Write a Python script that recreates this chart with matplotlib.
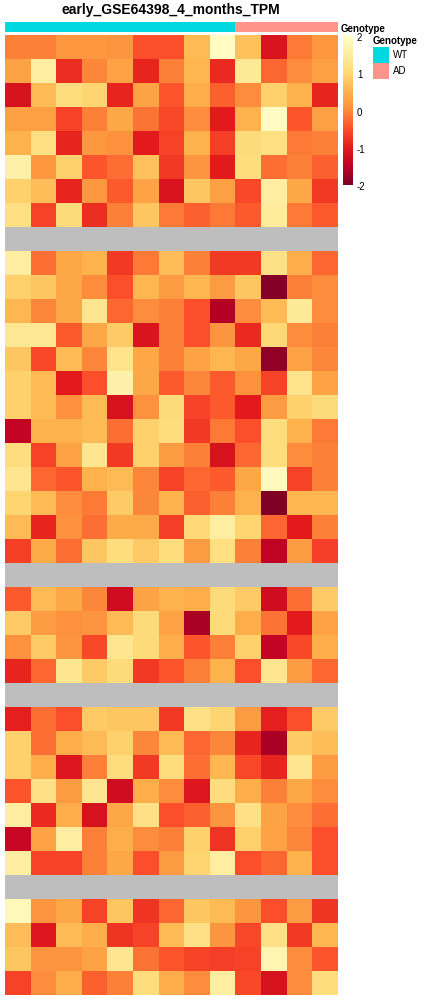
import numpy as np
import matplotlib
matplotlib.use("Agg")
import matplotlib.pyplot as plt
from matplotlib.colors import ListedColormap

plt.rcParams['font.family'] = ['Liberation Sans', 'DejaVu Sans']

title = "early_GSE64398_4_months_TPM"
genotype = ["WT"] * 9 + ["AD"] * 4
geno_colors = {"WT": "#00D8E0", "AD": "#FF948C"}
cbar_ticks = [2, 1, 0, -1, -2]

# z-scored TPM values, one list per row, blocks separated by NA rows
block1 = [
    [-0.1, -0.1, 0.15, 0.15, 0.1, -0.5, -0.5, 0.6, 1.9, 0.7, -1.1, -0.15, 0.15],
    [0.3, 1.5, -0.8, -0.05, 0.3, -0.9, -0.1, 0.55, -0.85, 1.4, -0.3, 0.0, 0.25],
    [-1.15, 0.6, 1.1, 0.95, -0.9, 0.3, -0.45, 0.45, -0.35, 0.0, 0.9, 0.5, -0.9],
    [0.25, 0.25, -0.6, -0.1, 0.35, -0.2, -0.55, 0.0, -1.0, 0.5, 1.9, -0.45, 0.25],
    [0.5, 1.15, -0.9, 0.15, 0.05, -1.0, -0.6, 0.5, -0.65, 1.05, 1.15, -0.15, -0.1],
    [1.6, 0.15, 0.9, -0.45, -0.25, 0.7, -0.7, 0.1, -1.0, 1.1, -0.25, -0.1, -0.35],
    [0.9, 0.65, -0.9, 0.15, -0.4, 0.3, -1.1, 0.75, 0.25, -0.55, 1.5, 0.35, -0.7],
    [1.15, -0.6, 1.05, -0.8, -0.1, 0.75, -0.15, -0.35, -0.15, -0.4, 1.45, -0.15, -0.4],
]
block2 = [
    [1.5, -0.25, 0.35, 0.5, -0.7, -0.15, 0.65, -0.1, -0.7, -0.7, 1.2, 0.45, -0.3],
    [0.9, 0.75, 0.35, 0.0, -0.5, 0.55, 0.2, 0.55, 0.2, 0.75, -1.95, -0.1, 0.0],
    [0.55, -0.05, 0.35, 1.3, -0.3, 0.0, -0.1, -0.5, -1.55, 0.0, 0.6, 1.4, 0.0],
    [1.35, 1.35, -0.4, 0.35, 0.8, -1.1, -0.1, -0.5, 0.1, -0.85, 1.0, 0.0, -0.1],
    [0.75, -0.55, 0.6, -0.05, 1.25, 0.35, -0.1, 0.3, 0.55, 0.35, -1.85, 0.3, -0.05],
    [0.9, 0.6, -1.0, -0.5, 1.6, 0.35, -0.4, -0.05, -0.4, 0.05, -0.6, 1.25, 0.3],
    [0.9, 0.6, 0.05, 0.6, -1.15, 0.05, 1.05, -0.6, -0.4, -1.0, 0.2, 0.9, 1.05],
    [-1.4, 0.5, 0.5, 0.6, -0.25, 0.9, 1.1, -0.7, -0.15, -0.5, 1.1, 0.5, -0.15],
    [1.1, -0.6, 0.3, 1.3, -0.7, 0.9, 0.2, -0.1, -1.15, -0.3, 1.1, 0.0, -0.1],
    [1.3, -0.3, -0.45, 0.5, 0.6, -0.05, -0.6, -0.3, -0.4, 0.35, 1.85, -0.6, -0.1],
    [0.95, 0.6, 0.0, -0.15, 0.8, -0.05, 0.5, -0.35, -0.1, 0.5, -2.0, 0.55, 0.55],
    [0.6, -0.9, 0.05, -0.25, 0.4, 0.4, -0.65, 1.0, 1.5, 0.95, -0.3, -1.0, -0.1],
    [-0.65, 0.4, -0.25, 0.75, 1.1, 0.8, 1.1, 0.2, 1.15, -0.1, -1.45, 0.2, -0.65],
]
block3 = [
    [-0.4, 0.6, 0.35, -0.05, -1.25, 0.3, 0.5, 0.45, 1.05, 0.8, -1.25, -0.25, 0.8],
    [0.8, 0.2, 0.05, 0.1, 0.6, 1.05, 0.3, -1.65, 1.05, 0.45, -0.2, -1.0, 0.3],
    [0.05, 0.8, 0.1, -0.55, 1.3, 1.05, 0.45, -0.45, -0.1, 0.9, -1.4, -0.55, 0.45],
    [-0.9, -0.3, 1.3, 0.8, 1.05, -0.7, -0.45, -0.1, 0.5, -0.5, 1.3, 0.2, -0.3],
]
block4 = [
    [-0.95, -0.25, -0.5, 0.8, 0.75, 0.75, -0.7, 1.2, 0.95, 0.2, -0.95, -0.5, 0.8],
    [0.9, -0.25, 0.45, 0.6, 0.9, -0.05, 0.6, -0.3, -0.05, -0.9, -1.65, 0.8, 0.65],
    [0.9, 0.45, -1.05, -0.1, 1.1, -0.7, 1.1, -0.25, 0.55, -0.55, -0.9, 1.3, 0.2],
    [-0.45, 1.2, 0.2, 1.3, -1.25, 0.45, 0.0, -1.05, 1.1, 0.45, -0.1, 0.35, 0.0],
    [1.5, -0.85, 0.45, -1.15, 0.35, 1.2, -0.5, -0.35, 0.1, 1.2, 0.3, 0.0, -0.25],
    [-1.35, 0.3, 1.5, -0.1, 0.45, 0.0, -0.1, 0.9, -0.75, 0.9, 0.3, -0.05, -0.5],
    [1.5, -0.6, -0.6, -0.1, 0.35, -0.5, 0.2, 0.95, 1.5, -0.5, -0.3, 0.5, -0.5],
]
block5 = [
    [1.8, 0.1, 0.35, -0.6, 0.75, -0.75, -0.3, 0.75, 0.6, 0.1, -0.5, 0.2, -0.75],
    [0.65, -1.05, 0.6, 0.45, -0.75, -0.6, 0.6, 1.2, 0.1, -0.55, 1.2, -0.7, 0.55],
    [0.75, 0.1, 0.1, 0.3, 1.3, -0.2, -0.45, -0.6, -0.65, -0.6, 1.7, 0.0, -0.45],
    [-0.6, 0.0, 0.45, -0.35, -0.1, 1.1, 0.45, 0.0, 1.5, -0.55, -1.15, 0.0, 1.1],
]

ncol = len(genotype)
gap = [np.nan] * ncol
rows = block1 + [gap] + block2 + [gap] + block3 + [gap] + block4 + [gap] + block5
mat = np.array(rows, dtype=float)

W, H = 441, 1000
fig = plt.figure(figsize=(W / 100, H / 100), dpi=100)

def box(x0, y0, x1, y1):
    # pixel box (top-left origin) -> figure fraction rect
    return [x0 / W, 1 - y1 / H, (x1 - x0) / W, (y1 - y0) / H]

cmap = plt.get_cmap('YlOrRd_r').copy()
cmap.set_bad('#BEBEBE')

ax = fig.add_axes(box(5, 35, 338, 995))
im = ax.imshow(np.ma.masked_invalid(mat), cmap=cmap, vmin=-2, vmax=2,
               aspect='auto', interpolation='nearest')
ax.set_axis_off()

# genotype annotation bar
ax_ann = fig.add_axes(box(5, 22, 338, 32))
codes = np.array([[0 if g == "WT" else 1 for g in genotype]])
ax_ann.imshow(codes, cmap=ListedColormap([geno_colors["WT"], geno_colors["AD"]]),
              aspect='auto', interpolation='nearest', vmin=0, vmax=1)
ax_ann.set_axis_off()

fig.text(171 / W, 1 - 10 / H, title, ha='center', va='center',
         fontsize=10, fontweight='bold')

# colorbar legend
cax = fig.add_axes(box(343, 35, 353, 185))
cb = fig.colorbar(im, cax=cax, ticks=[])
cb.outline.set_visible(False)
for i, t in enumerate(cbar_ticks):
    fig.text(357 / W, 1 - (38 + i * 37.3) / H, str(t), ha='left', va='center',
             fontsize=7)
fig.text(341 / W, 1 - 31.5 / H, "Genotype", ha='left', va='baseline',
         fontsize=7, fontweight='bold')

# discrete legend
fig.text(373 / W, 1 - 41 / H, "Genotype", ha='left', va='center',
         fontsize=7, fontweight='bold')
for i, g in enumerate(["WT", "AD"]):
    y0 = 47 + i * 16
    lax = fig.add_axes(box(373, y0, 389, y0 + 16))
    lax.set_facecolor(geno_colors[g])
    lax.set_xticks([])
    lax.set_yticks([])
    for s in lax.spines.values():
        s.set_visible(False)
    fig.text(393 / W, 1 - (y0 + 8) / H, g, ha='left', va='center', fontsize=7)

fig.savefig('out.png', dpi=100)
